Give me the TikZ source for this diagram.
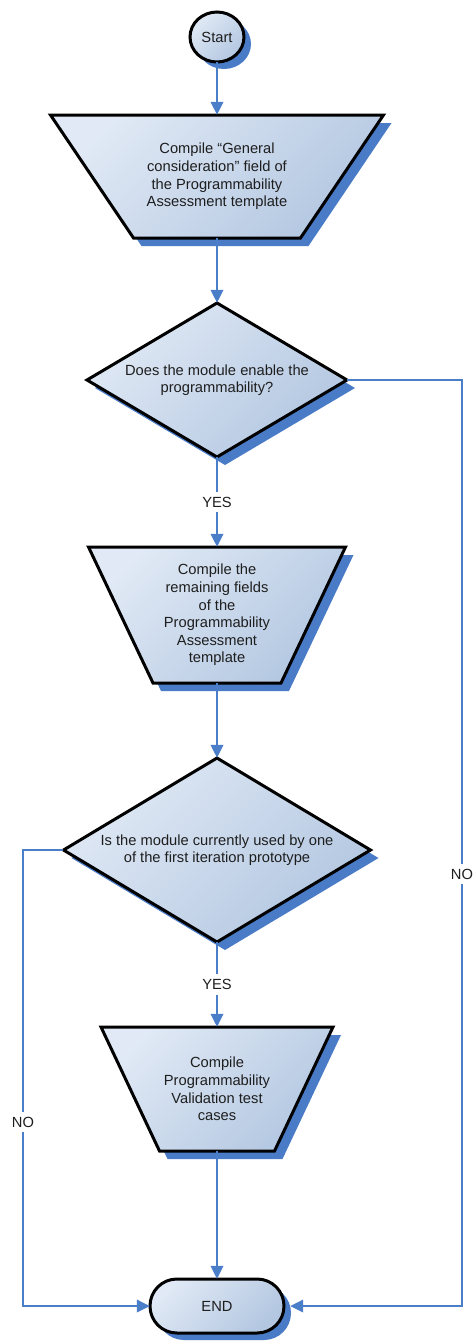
\documentclass[tikz,border=0pt]{standalone}
\usepackage{fontspec}
\setmainfont{Liberation Sans}
\usetikzlibrary{arrows.meta}

\definecolor{boxlight}{HTML}{E0E9F5}
\definecolor{boxdark}{HTML}{B3C7E1}
\definecolor{shadowblue}{HTML}{4A7BC6}
\definecolor{lineblue}{HTML}{4A7EC8}
\definecolor{inktext}{HTML}{1E1E1E}

\newcommand\boxfont{\fontsize{14.7pt}{17.6pt}\selectfont}

\tikzset{
  shapebox/.style={draw=black, line width=3pt,
    top color=boxlight, bottom color=boxdark, shading angle=45},
  dropshadow/.style={fill=shadowblue},
  textbox/.style={align=center, inner sep=0pt, font=\boxfont, text=inktext},
  flow/.style={draw=lineblue, line width=1.8pt,
    -{Triangle[length=13pt,width=12.5pt]}},
  flowlabel/.style={fill=white, font=\boxfont, text=inktext, inner xsep=1pt,
    inner ysep=5pt, text height=10.5pt, text depth=0pt},
}

% inverted trapezium with drop shadow: centre x, centre y, width, height, inset of lower edge
\newcommand\trapshape[5]{%
  \fill[dropshadow] (#1-#3/2+8,#2-#4/2+8) -- (#1+#3/2+8,#2-#4/2+8)
    -- (#1+#3/2-#5+8,#2+#4/2+8) -- (#1-#3/2+#5+8,#2+#4/2+8) -- cycle;
  \draw[shapebox] (#1-#3/2,#2-#4/2) -- (#1+#3/2,#2-#4/2)
    -- (#1+#3/2-#5,#2+#4/2) -- (#1-#3/2+#5,#2+#4/2) -- cycle;}

% decision diamond with drop shadow: centre x, centre y, width, height
\newcommand\diamondshape[4]{%
  \fill[dropshadow] (#1+8,#2-#4/2+8) -- (#1+#3/2+8,#2+8)
    -- (#1+8,#2+#4/2+8) -- (#1-#3/2+8,#2+8) -- cycle;
  \draw[shapebox] (#1,#2-#4/2) -- (#1+#3/2,#2)
    -- (#1,#2+#4/2) -- (#1-#3/2,#2) -- cycle;}

\begin{document}
\begin{tikzpicture}[x=1pt, y=-1pt]
\useasboundingbox (0,0) rectangle (472,1341);

% outlines
\fill[dropshadow] (224,44) ellipse [x radius=27, y radius=25];
\draw[shapebox] (217,37) ellipse [x radius=27, y radius=25];
\trapshape{217}{176.5}{333}{123}{83}
\diamondshape{217}{380}{260}{154}
\trapshape{217}{615}{257}{136}{64.5}
\diamondshape{217}{850}{307}{184}
\trapshape{217}{1089}{232}{124}{58.5}
\fill[dropshadow, rounded corners=26.9pt] (157,1286) rectangle (291,1340);
\draw[shapebox, rounded corners=26.9pt] (150,1279) rectangle (284,1333);

% texts
\node[textbox, minimum width=54pt, minimum height=50pt] (start) at (217,37) {Start};
\node[textbox, minimum width=333pt, minimum height=123pt] (t1) at (217,176.5)
  {Compile “General\\consideration” field of\\the Programmability\\Assessment template};
\node[textbox, minimum width=260pt, minimum height=154pt] (d1) at (217,380)
  {Does the module enable the\\programmability?};
\node[textbox, minimum width=257pt, minimum height=136pt] (t2) at (217,615)
  {Compile the\\remaining fields\\of the\\Programmability\\Assessment\\template};
\node[textbox, minimum width=307pt, minimum height=184pt] (d2) at (217,850)
  {Is the module currently used by one\\of the first iteration prototype};
\node[textbox, minimum width=232pt, minimum height=124pt] (t3) at (217,1089)
  {Compile\\Programmability\\Validation test\\cases};
\node[textbox, minimum width=134pt, minimum height=54pt] (end) at (217,1306) {END};

% connectors
\coordinate (rturn) at (462,380);
\coordinate (lturn) at (23,850);
\draw[flow] (start.south) -- (t1.north);
\draw[flow] (t1.south) -- (d1.north);
\draw[flow] (d1.south) -- node[flowlabel] (yes1) {YES} (t2.north);
\draw[flow] (t2.south) -- (d2.north);
\draw[flow] (d2.south) -- node[flowlabel] (yes2) {YES} (t3.north);
\draw[flow] (t3.south) -- (end.north);
\draw[flow] (d1.east) -- (rturn) |- ([xshift=6pt]end.east);
\draw[flow] (d2.west) -- (lturn) |- (end.west);
\node[flowlabel] (no1) at (462,874) {NO};
\node[flowlabel] (no2) at (23,1122) {NO};
\end{tikzpicture}
\end{document}
